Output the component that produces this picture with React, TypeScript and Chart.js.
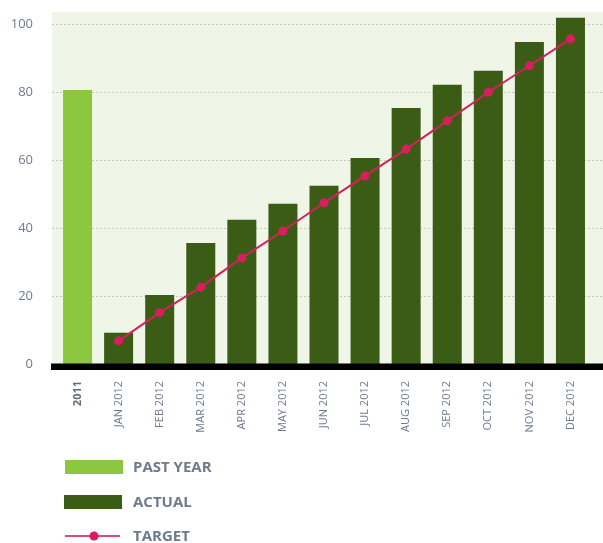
import React, { useEffect, useRef } from "react";
import { Chart, registerables } from "chart.js";

Chart.register(...registerables);

const categories = ["2011", "JAN 2012", "FEB 2012", "MAR 2012", "APR 2012", "MAY 2012", "JUN 2012", "JUL 2012", "AUG 2012", "SEP 2012", "OCT 2012", "NOV 2012", "DEC 2012"];
const pastYear = [80.6, null, null, null, null, null, null, null, null, null, null, null, null];
const actual = [null, 9.2, 20.3, 35.6, 42.4, 47.1, 52.4, 60.6, 75.3, 82.1, 86.2, 94.7, 101.8];
const target = [null, 6.8, 15.1, 22.6, 31.2, 39.1, 47.4, 55.3, 63.2, 71.5, 79.9, 87.7, 95.6];
const yTicks = [0, 20, 40, 60, 80, 100];
const legendLabels = ["PAST YEAR", "ACTUAL", "TARGET"];

const LIGHT = "#8dc63f";
const DARK = "#3a5c15";
const PINK = "#d81f5e";
const LABEL = "#6e7b8e";
const BG = "#eff5e7";

const decorPlugin = {
  id: "decor",
  beforeDraw(chart: any) {
    const { ctx, chartArea, scales } = chart;
    const y = scales.y;
    const zero = y.getPixelForValue(0);
    ctx.save();
    ctx.fillStyle = BG;
    ctx.fillRect(52, chartArea.top, chart.width - 52, zero - chartArea.top);
    ctx.strokeStyle = "#c3cab7";
    ctx.lineWidth = 1;
    ctx.setLineDash([2, 2]);
    yTicks.forEach((v) => {
      if (v === 0) return;
      const py = Math.round(y.getPixelForValue(v)) + 0.5;
      ctx.beginPath();
      ctx.moveTo(52, py);
      ctx.lineTo(chart.width, py);
      ctx.stroke();
    });
    ctx.restore();
  },
  afterDatasetsDraw(chart: any) {
    const { ctx, scales } = chart;
    const zero = scales.y.getPixelForValue(0);
    ctx.save();
    ctx.fillStyle = "#000";
    ctx.fillRect(51, zero - 0.5, chart.width - 51, 6.5);
    ctx.restore();
  },
  afterDraw(chart: any) {
    const { ctx } = chart;
    ctx.save();
    const rows = [467, 502, 536];
    ctx.fillStyle = LIGHT;
    ctx.fillRect(65, 460, 58, 14);
    ctx.fillStyle = DARK;
    ctx.fillRect(64, 495, 58, 14);
    ctx.strokeStyle = "#e0487a";
    ctx.lineWidth = 2;
    ctx.beginPath();
    ctx.moveTo(65, 536);
    ctx.lineTo(120, 536);
    ctx.stroke();
    ctx.fillStyle = PINK;
    ctx.beginPath();
    ctx.arc(94, 536, 4.5, 0, Math.PI * 2);
    ctx.fill();
    ctx.fillStyle = LABEL;
    ctx.font = "bold 15px 'Open Sans'";
    ctx.textBaseline = "middle";
    ctx.textAlign = "left";
    legendLabels.forEach((t, i) => ctx.fillText(t, 133, rows[i] + 1));
    ctx.restore();
  },
};

export default function App() {
  const ref = useRef<HTMLCanvasElement>(null);
  useEffect(() => {
    const chart = new Chart(ref.current!, {
      type: "bar",
      data: {
        labels: categories,
        datasets: [
          {
            type: "line",
            label: "TARGET",
            data: target,
            borderColor: PINK,
            backgroundColor: PINK,
            borderWidth: 2,
            pointRadius: 4.5,
            pointBackgroundColor: PINK,
            pointBorderWidth: 0,
            tension: 0,
            order: 0,
          } as any,
          {
            label: "PAST YEAR",
            data: pastYear,
            backgroundColor: LIGHT,
            grouped: false,
            barPercentage: 0.706,
            categoryPercentage: 1,
            order: 1,
          } as any,
          {
            label: "ACTUAL",
            data: actual,
            backgroundColor: DARK,
            grouped: false,
            barPercentage: 0.706,
            categoryPercentage: 1,
            order: 1,
          } as any,
        ],
      },
      options: {
        animation: false,
        responsive: false,
        layout: { padding: { top: 12, right: 12, left: 0, bottom: 0 } },
        plugins: { legend: { display: false }, tooltip: { enabled: false } },
        scales: {
          x: {
            grid: { display: false, drawTicks: false },
            border: { display: false },
            ticks: {
              minRotation: 90,
              maxRotation: 90,
              padding: 17,
              autoSkip: false,
              color: (c: any) => (c.index === 0 ? "#5f6c80" : LABEL),
              font: (c: any) => ({ family: "'Open Sans'", size: 11, weight: c.index === 0 ? "bold" : "normal" }),
            },
            afterFit: (s: any) => {
              s.height = 543 - 364;
              s.paddingTop = 0;
              s.paddingBottom = 0;
            },
          },
          y: {
            min: 0,
            max: 103.5,
            grid: { display: false, drawTicks: false },
            border: { display: false },
            ticks: {
              stepSize: 20,
              padding: 24,
              color: LABEL,
              font: { family: "'Open Sans'", size: 13 },
            },
            afterBuildTicks: (s: any) => {
              s.ticks = yTicks.map((v) => ({ value: v }));
            },
            afterFit: (s: any) => {
              s.width = 57;
              s.paddingTop = 0;
              s.paddingBottom = 0;
            },
          },
        },
      },
      plugins: [decorPlugin],
    });
    return () => chart.destroy();
  }, []);
  return (
    <div style={{ position: "fixed", left: 0, top: 0, width: 603, height: 543, overflow: "hidden" }}>
      <canvas ref={ref} width={603} height={543} style={{ display: "block" }} />
    </div>
  );
}
